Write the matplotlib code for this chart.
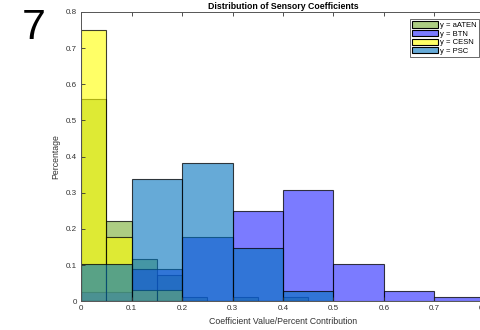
import matplotlib
matplotlib.use("agg")
import matplotlib.pyplot as plt
import numpy as np

plt.rcParams['font.family'] = ['Liberation Sans', 'DejaVu Sans']

# normalized histogram heights, one list per series
aaten_edges = np.arange(0, 0.451, 0.05)
aaten = [0.558, 0.2215, 0.117, 0.072, 0.013, 0.0, 0.013, 0.0, 0.013]

btn_edges = np.arange(0, 0.801, 0.1)
btn = [0.026, 0.088, 0.177, 0.249, 0.309, 0.102, 0.028, 0.013]

cesn_edges = np.arange(0, 0.201, 0.05)
cesn = [0.749, 0.1765, 0.03, 0.03]

psc_edges = np.arange(0, 0.501, 0.1)
psc = [0.102, 0.337, 0.382, 0.146, 0.028]

labels = ["y = aATEN", "y = BTN", "y = CESN", "y = PSC"]
colors = [(0.466, 0.674, 0.188), (0.14, 0.14, 1.0), (1.0, 1.0, 0.0), (0.0, 0.447, 0.741)]
alpha = 0.6

fig = plt.figure(figsize=(4.8, 3.3), dpi=100)
ax = fig.add_axes([0.169, 0.087, 0.841, 0.877])

series = [(aaten_edges, aaten), (btn_edges, btn), (cesn_edges, cesn), (psc_edges, psc)]
for (edges, vals), col, lab in zip(series, colors, labels):
    w = edges[1] - edges[0]
    ax.bar(edges[:-1], vals, width=w, align='edge', color=col + (alpha,),
           edgecolor=(0, 0, 0, 0.75), linewidth=0.8, label=lab)

ax.set_xlim(0, 0.8)
ax.set_ylim(0, 0.8)
ax.set_xticks(np.arange(0, 0.81, 0.1))
ax.set_yticks(np.arange(0, 0.81, 0.1))
ax.set_xticklabels(["0", "0.1", "0.2", "0.3", "0.4", "0.5", "0.6", "0.7", "0.8"])
ax.set_yticklabels(["0", "0.1", "0.2", "0.3", "0.4", "0.5", "0.6", "0.7", "0.8"])
ax.tick_params(direction='in', length=3, width=0.6, labelsize=5.8,
               colors='#333333', top=True, right=True, pad=3)
for s in ax.spines.values():
    s.set_color('#555555')
    s.set_linewidth(0.7)

ax.set_title("Distribution of Sensory Coefficients", fontsize=6.3, fontweight='bold', pad=2)
ax.set_xlabel("Coefficient Value/Percent Contribution", fontsize=6.3, color='#333333', labelpad=3)
ax.set_ylabel("Percentage", fontsize=6.3, color='#333333', labelpad=4)

leg = ax.legend(loc='upper right', bbox_to_anchor=(0.985, 0.975), fontsize=5.5,
                frameon=True, fancybox=False, borderpad=0.3, labelspacing=0.1,
                handlelength=3.4, handleheight=0.9, handletextpad=0.2, borderaxespad=0)
leg.get_frame().set_edgecolor('#262626')
leg.get_frame().set_linewidth(0.6)
for h in leg.legend_handles:
    h.set_edgecolor('black')

fig.text(0.045, 0.975, "7", fontsize=31, va='top', ha='left')

fig.savefig("out.png", dpi=100)
